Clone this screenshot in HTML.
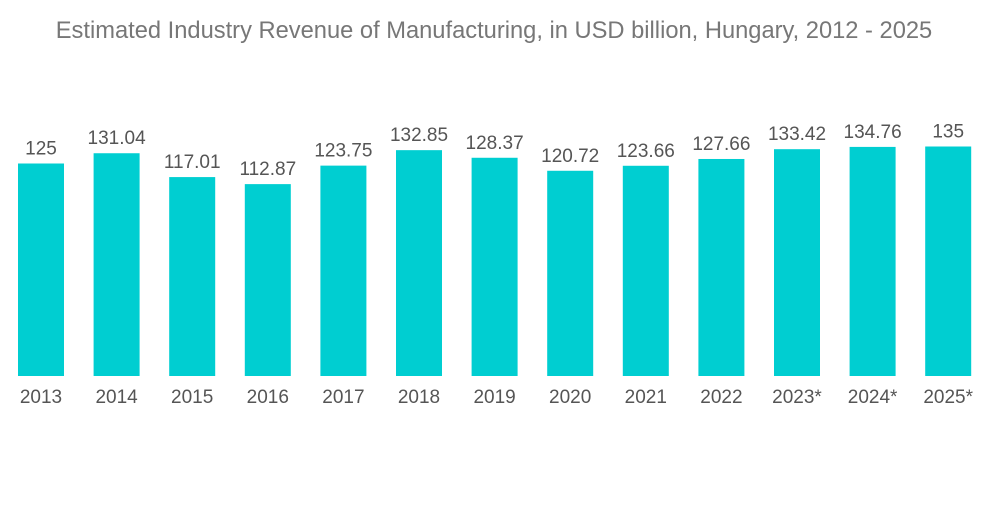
<!DOCTYPE html>
<html><head><meta charset="utf-8"><style>
body{margin:0;background:#fff;width:1000px;height:504px;overflow:hidden;font-family:"Liberation Sans",sans-serif}
</style></head><body>
<svg id="chart" width="1000" height="504" xmlns="http://www.w3.org/2000/svg">
<text x="494" y="38" text-anchor="middle" font-size="23.7" fill="#777">Estimated Industry Revenue of Manufacturing, in USD billion, Hungary, 2012 - 2025</text>
<g id="bars"></g>
</svg>
<script>
const categories=["2013","2014","2015","2016","2017","2018","2019","2020","2021","2022","2023*","2024*","2025*"];
const values=[125,131.04,117.01,112.87,123.75,132.85,128.37,120.72,123.66,127.66,133.42,134.76,135];
const labels=["125","131.04","117.01","112.87","123.75","132.85","128.37","120.72","123.66","127.66","133.42","134.76","135"];
const base=376, k=1.7, x0=18, step=75.6, bw=46;
const yScale=v=>base-v*k;
const xScale=i=>x0+i*step;
const g=document.getElementById('bars');
const NS="http://www.w3.org/2000/svg";
categories.forEach((c,i)=>{
 const x=xScale(i), y=yScale(values[i]);
 const r=document.createElementNS(NS,'rect');
 
 
 r.setAttribute('x',x);r.setAttribute('y',y);r.setAttribute('width',bw);r.setAttribute('height',base-y);r.setAttribute('fill','#00ced1');
 g.appendChild(r);
 const t=document.createElementNS(NS,'text');
 
 
 t.setAttribute('x',x+bw/2);t.setAttribute('y',y-9);t.setAttribute('text-anchor','middle');t.setAttribute('font-size','19');t.setAttribute('fill','#555');
 t.textContent=labels[i];g.appendChild(t);
 const a=document.createElementNS(NS,'text');
 
 
 a.setAttribute('x',x+bw/2);a.setAttribute('y',403);a.setAttribute('text-anchor','middle');a.setAttribute('font-size','19');a.setAttribute('fill','#555');
 a.textContent=c;g.appendChild(a);
});
</script>
</body></html>
